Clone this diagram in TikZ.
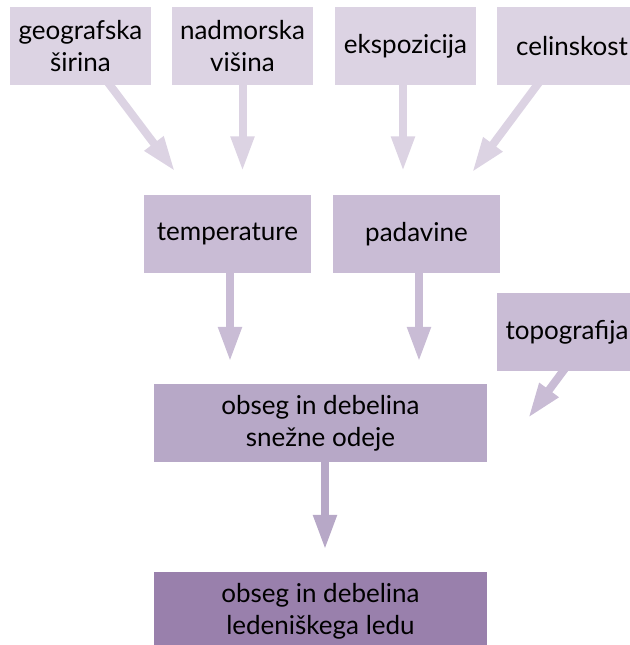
\documentclass[tikz,border=0pt]{standalone}
\usepackage{fontspec}
\setmainfont{Lato}
\usepackage{tikz}
\usetikzlibrary{arrows.meta}
\usetikzlibrary{positioning,calc}
\definecolor{lilaA}{HTML}{DCD3E3}
\definecolor{lilaB}{HTML}{C9BCD5}
\definecolor{lilaC}{HTML}{B7A8C7}
\definecolor{lilaD}{HTML}{9980AC}
\tikzset{
    faktor/.style={
        rectangle,
        inner sep=0pt,
        align=center,
        minimum height=78pt,
        font=\fontsize{26}{32}\selectfont
    },
    pfeil/.style={
        -{Triangle[length=35pt, width=22pt]},
        line width=8pt,
        shorten <=-4pt
    }
}

\begin{document}
\begin{tikzpicture}[x=1pt, y=1pt]
    \useasboundingbox (0,0) rectangle (629,645);
    % Top row
    \node[faktor, fill=lilaA, minimum width=141pt] (geo) at (80.5,599) {geografska\\širina};
    \node[faktor, fill=lilaA, minimum width=141pt] (nad) at (242.5,599) {nadmorska\\višina};
    \node[faktor, fill=lilaA, minimum width=141pt] (eks) at (405.5,599) {ekspozicija};
    \node[faktor, fill=lilaA, minimum width=150pt] (cel) at (572,599) {celinskost};

    % Middle row
    \node[faktor, fill=lilaB, minimum width=167pt] (temp) at (227.5,410.5) {temperature};
    \node[faktor, fill=lilaB, minimum width=167pt] (pad) at (416.5,410.5) {padavine};
    \node[faktor, fill=lilaB, minimum width=140pt] (topo) at (567,313) {topografija};

    % Snow and ice
    \node[faktor, fill=lilaC, minimum width=333pt] (sneg) at (320.5,222) {obseg in debelina\\snežne odeje};
    \node[faktor, fill=lilaD, minimum width=333pt] (led) at (320.5,34) {obseg in debelina\\ledeniškega ledu};

    % Arrows
    \draw[pfeil, lilaA, shorten >=30pt] ([xshift=29.5pt]geo.south) -- ([xshift=-34.5pt]temp.north);
    \draw[pfeil, lilaA, shorten >=24pt] (nad.south) -- (nad.south |- temp.north);
    \draw[pfeil, lilaA, shorten >=24pt] ([xshift=-2.5pt]eks.south) -- ([xshift=-2.5pt]eks.south |- pad.north);
    \draw[pfeil, lilaA, shorten >=28.6pt] ([xshift=-35pt]cel.south) -- ([xshift=38.5pt]pad.north);
    \draw[pfeil, lilaB, shorten >=22pt] ([xshift=2.5pt]temp.south) -- ([xshift=2.5pt]temp.south |- sneg.north);
    \draw[pfeil, lilaB, shorten >=22pt] ([xshift=2.5pt]pad.south) -- ([xshift=2.5pt]pad.south |- sneg.north);
    \draw[pfeil, lilaB] ([xshift=-4pt]topo.south) -- ([xshift=41pt,yshift=5pt]sneg.east);
    \draw[pfeil, lilaC, shorten >=22pt] ([xshift=4.5pt]sneg.south) -- ([xshift=4.5pt]sneg.south |- led.north);
\end{tikzpicture}
\end{document}
